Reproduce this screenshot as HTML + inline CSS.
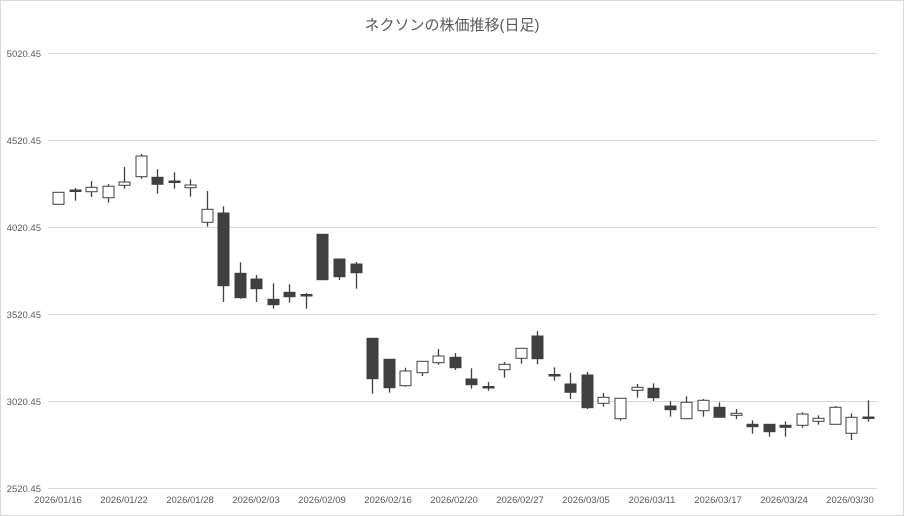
<!DOCTYPE html>
<html><head><meta charset="utf-8"><style>
html,body{margin:0;padding:0;background:#fff;}
svg{display:block;font-family:"Liberation Sans","Noto Sans CJK JP",sans-serif;}
</style></head><body>
<svg id="c" width="904" height="516" viewBox="0 0 904 516">
<rect x="0.5" y="0.5" width="903" height="515" fill="#fff" stroke="#d9d9d9"/>
<text x="452" y="30" text-anchor="middle" font-size="15" fill="#595959">ネクソンの株価推移(日足)</text>
<g stroke="#d9d9d9" stroke-width="1">
<line x1="48" y1="53.5" x2="877" y2="53.5"/>
<line x1="48" y1="140.5" x2="877" y2="140.5"/>
<line x1="48" y1="227.5" x2="877" y2="227.5"/>
<line x1="48" y1="314.5" x2="877" y2="314.5"/>
<line x1="48" y1="401.5" x2="877" y2="401.5"/>
<line x1="48" y1="488.5" x2="877" y2="488.5"/>
</g>
<g font-size="9.5" fill="#595959" text-anchor="end">
<text x="41" y="57">5020.45</text>
<text x="41" y="144">4520.45</text>
<text x="41" y="231">4020.45</text>
<text x="41" y="318">3520.45</text>
<text x="41" y="405">3020.45</text>
<text x="41" y="492">2520.45</text>
</g>
<g font-size="9.5" fill="#595959" text-anchor="middle">
<text x="58" y="503">2026/01/16</text>
<text x="124" y="503">2026/01/22</text>
<text x="190" y="503">2026/01/28</text>
<text x="256" y="503">2026/02/03</text>
<text x="322" y="503">2026/02/09</text>
<text x="388" y="503">2026/02/16</text>
<text x="454" y="503">2026/02/20</text>
<text x="520" y="503">2026/02/27</text>
<text x="586" y="503">2026/03/05</text>
<text x="652" y="503">2026/03/11</text>
<text x="718" y="503">2026/03/17</text>
<text x="784" y="503">2026/03/24</text>
<text x="850" y="503">2026/03/30</text>
</g>
<g id="k"></g>
</svg>
<script>
var d=[
[192,204,192.3,204.3,0],[188,200.7,190,191.5,1],[181,197,187.3,191.7,0],[184,202.7,186.3,197.7,0],[167,188.7,182,185.3,0],
[154,178.7,156,176.7,0],[169.3,193.7,177.3,184.3,1],[172.3,188.7,181,182.5,1],[179.3,196.7,185,187.7,0],[191,226.7,209.3,222.3,0],
[206.3,302,213,285.7,1],[262.3,298.7,273.3,297.7,1],[275,302,279,288.7,1],[283.3,308.7,299.3,304.7,1],[284.3,302.7,292.3,296.7,1],
[293,308.7,294.5,296,1],[234.3,279.7,234.3,279.7,1],[259,280,259,276.7,1],[262,288.7,264,272.7,1],[338.3,393.7,338.3,378.7,1],
[359.3,392.7,359.3,387.7,1],[367.7,386.7,371,385.7,0],[361.3,376,361.3,372.7,0],[349,364.7,356,362.7,0],[353,370,357.3,367.7,1],
[368.3,388.7,379,384.7,1],[382,390.7,386.5,388,1],[362,377.7,364.3,369.7,0],[348.3,363.7,348.3,358.3,0],[331,364.3,336,358.7,1],
[367.3,380.7,374.5,376,1],[372.7,399,384,392.3,1],[372,409,375,407.7,1],[393,406.7,397.3,403.3,0],[398.3,420.7,398.3,418.7,0],
[384,397.7,387.3,390.3,0],[383.3,401,388.3,397.7,1],[401.3,416.7,406,409.7,1],[396.3,418.7,402.3,418.7,0],[399,416.7,400.3,410.7,0],
[402.3,417.3,407.3,417.3,1],[409,419,413.3,415.3,0],[420.3,433.7,424.3,426.7,1],[424.3,436.7,424.3,431.7,1],[421.3,436.7,425.3,427.3,1],
[412.3,427.7,414,425.3,0],[415.3,424.7,418.3,421.3,0],[406,424.3,407.3,424.3,0],[413.3,440,417.3,433.3,0],[400.3,421.7,417,418.5,1]];
var s='';
d.forEach(function(c,i){var x=58+i*16.53;var xr=Math.round(x)+0.5;
s+='<line x1="'+xr+'" x2="'+xr+'" y1="'+c[0]+'" y2="'+c[1]+'" stroke="#404040" stroke-width="1.3"/>';
var h=Math.max(c[3]-c[2],1.5);
s+='<rect x="'+(xr-5.5)+'" y="'+c[2]+'" width="11" height="'+h+'" fill="'+(c[4]?'#404040':'#fff')+'" stroke="#404040" stroke-width="1"/>';});
document.getElementById('k').innerHTML=s;
</script>
</body></html>
